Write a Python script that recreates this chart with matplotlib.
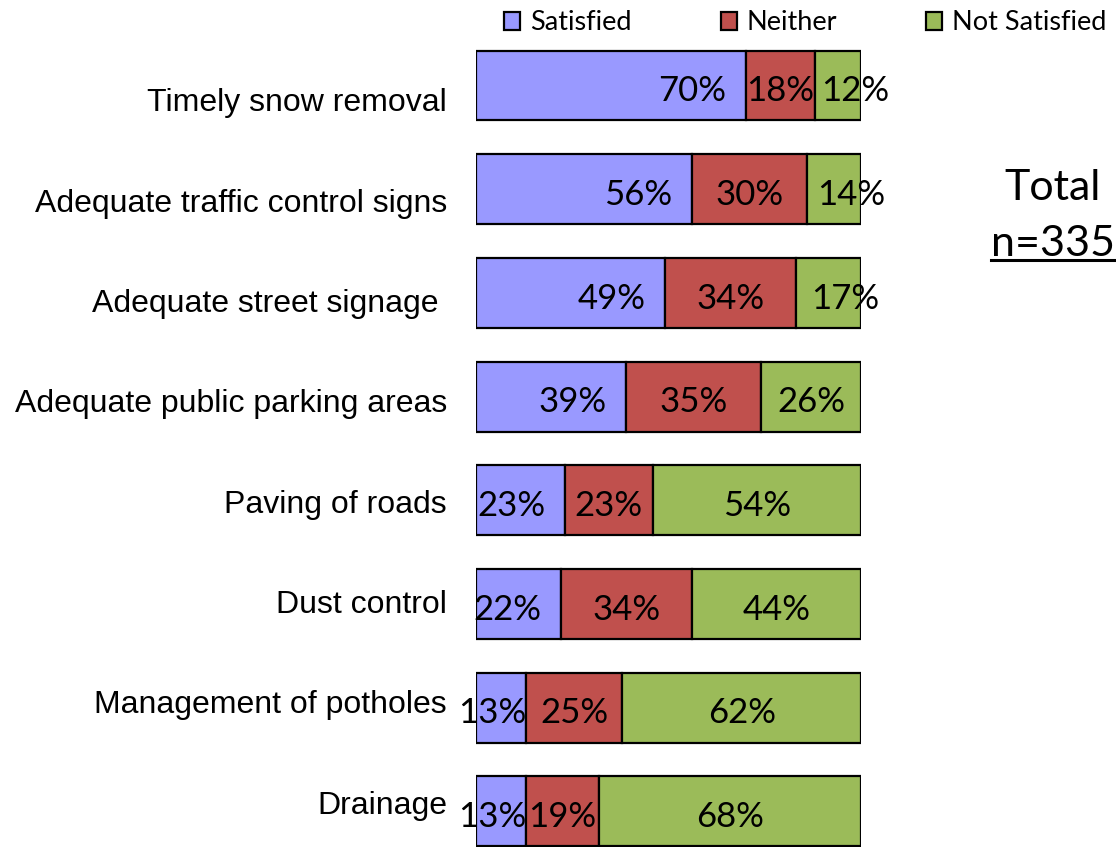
import matplotlib.pyplot as plt
import numpy as np
from matplotlib.patches import Patch

categories = ["Timely snow removal", "Adequate traffic control signs",
              "Adequate street signage ", "Adequate public parking areas",
              "Paving of roads", "Dust control", "Management of potholes",
              "Drainage"]
satisfied = [70, 56, 49, 39, 23, 22, 13, 13]
neither = [18, 30, 34, 35, 23, 34, 25, 19]
not_satisfied = [12, 14, 17, 26, 54, 44, 62, 68]
series_names = ["Satisfied", "Neither", "Not Satisfied"]
colors = ["#9999FF", "#C0504D", "#9BBB59"]

fig = plt.figure(figsize=(11.16, 8.47), dpi=100)
ax = fig.add_axes([476 / 1116, 0, 385 / 1116, 1])

y = np.arange(len(categories))
s = np.array(satisfied) / 100
n = np.array(neither) / 100
ns = np.array(not_satisfied) / 100
h = 0.675
kw = dict(height=h, edgecolor="black", linewidth=1.6)
ax.barh(y, s, color=colors[0], **kw)
ax.barh(y, n, left=s, color=colors[1], **kw)
ax.barh(y, ns, left=s + n, color=colors[2], **kw)

# labels sit a touch below the bar centre, as in the original
pct = dict(fontsize=25, family="Lato", va="center", color="black")
dy = 0.055
for i in y:
    xr = max(s[i] - 0.05, 0.13)
    ax.text(xr, i + dy, f"{satisfied[i]}%", ha="right", **pct)
    ax.text(s[i] + n[i] / 2, i + dy, f"{neither[i]}%", ha="center", **pct)
    c = s[i] + n[i] + ns[i] / 2
    if ns[i] < 0.2:
        c += 0.045
    ax.text(c, i + dy, f"{not_satisfied[i]}%", ha="center", **pct)

for i, cat in enumerate(categories):
    ax.text(-0.075, i * 0.968 + 0.17, cat, ha="right", va="center",
            fontsize=23, family="Liberation Sans", clip_on=False)

ax.set_xlim(0, 1)
ax.set_ylim((847 - 85.5) / 103.7, -85.5 / 103.7)
ax.axis("off")

handles = [Patch(facecolor=c, edgecolor="black", linewidth=1.6) for c in colors]
fig.legend(handles, series_names, loc="center left",
           bbox_to_anchor=(504 / 1116, 1 - 23 / 847),
           ncol=3, frameon=False, prop={"family": "Lato", "size": 19.5},
           handlelength=0.6, handleheight=0.6, handletextpad=0.35,
           columnspacing=3.3, borderpad=0, borderaxespad=0)

fig.text(1053 / 1116, 1 - 188 / 847, "Total", ha="center", va="center",
         fontsize=31, family="Lato")
t = fig.text(1053 / 1116, 1 - 244 / 847, "n=335", ha="center", va="center",
             fontsize=31, family="Lato")
fig.canvas.draw()
bb = t.get_window_extent().transformed(fig.transFigure.inverted())
fig.add_artist(plt.Line2D([bb.x0, bb.x1], [bb.y0 + 0.003, bb.y0 + 0.003],
                          color="black", linewidth=2.2, transform=fig.transFigure))

fig.savefig("out.png", dpi=100)
